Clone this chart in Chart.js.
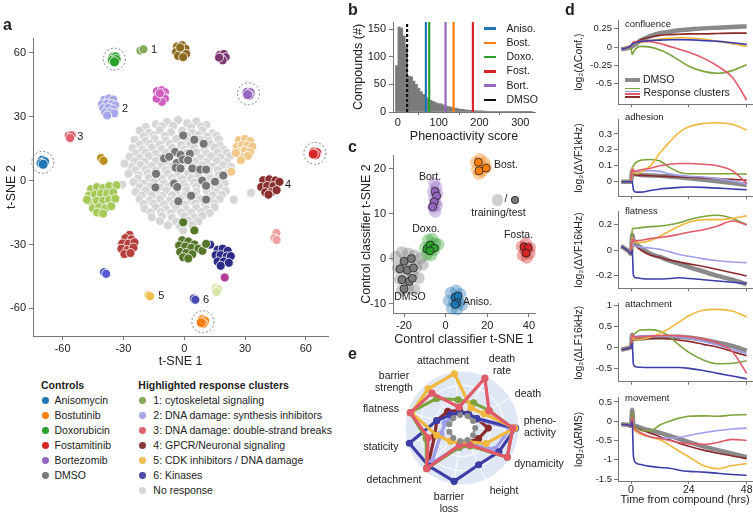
<!DOCTYPE html>
<html><head><meta charset="utf-8">
<script src="https://cdn.jsdelivr.net/npm/chart.js@4.4.1/dist/chart.umd.min.js"></script>
<style>
html,body{margin:0;padding:0;background:#fff}
body{width:753px;height:515px;position:relative;overflow:hidden;font-family:"Liberation Sans",Arial,Helvetica,sans-serif;color:#222}
canvas{position:absolute;display:block}
.t{position:absolute;white-space:nowrap;line-height:1.12}
.dot{position:absolute;border-radius:50%}
.ln{position:absolute}
</style></head><body>
<canvas id="ca" width="340" height="372" style="left:0;top:0"></canvas>
<canvas id="cb" width="240" height="145" style="left:345px;top:0"></canvas>
<canvas id="cc" width="240" height="205" style="left:345px;top:145px"></canvas>
<canvas id="ce" width="134" height="134" style="left:395px;top:361px"></canvas>
<canvas id="d1" width="183" height="112" style="left:570px;top:0"></canvas>
<canvas id="d2" width="183" height="92" style="left:570px;top:112px"></canvas>
<canvas id="d3" width="183" height="92" style="left:570px;top:204px"></canvas>
<canvas id="d4" width="183" height="94" style="left:570px;top:296px"></canvas>
<canvas id="d5" width="183" height="125" style="left:570px;top:390px"></canvas>
<script>
// ================= DATA =================
// ---- panel a : t-SNE coordinates ----
const aAnisomycin = [[-70,9.6],[-68.9,8.9],[-70.6,8.1],[-69.6,7.7]];
const aBostutinib = [[9,-65.4],[10.1,-66],[9.3,-67.1],[8.4,-66.7]];
const aDoxorubicin = [[-35,58],[-33.9,58.1],[-35.4,56.6],[-33.6,56.9],[-34.4,55.8]];
const aFostamitinib = [[64,13.4],[65.4,13.1],[64.8,12.2],[63.7,12.5]];
const aBortezomib = [[31,41.5],[32.6,41.3],[32.1,40.1],[31.3,40.4]];
const aDMSO = [[-0.5,21.2],[5,19.2],[9.6,17.3],[-4.5,13.5],[-1.8,12.1],[2.8,12.6],[-9.9,10.4],[-7.4,11.2],[-3.7,8.3],[-0.6,9.9],[1.9,9.6],[-4.2,6.1],[-1.8,5.7],[4,5.7],[7.9,5.2],[10.8,5.2],[-13.9,3.2],[19.3,2.4],[8.9,0],[15.2,-0.5],[-5,-1.4],[-14.2,-3.2],[-3.4,-3],[10.8,-2.4],[3.4,-7.1],[-2.9,-9.7],[10.8,-8.9]];
const aCluster1 = [[-21.6,61.1],[-20.1,61.7]];
const aCluster2 = [[-39.5,38],[-37,38.6],[-35,38.1],[-40.5,36],[-38,36.2],[-35.6,36],[-34,35.4],[-40,34],[-37.5,34.2],[-35,33.5],[-39,32.1],[-36.6,32],[-34.5,31.6],[-38,30.6]];
const aCluster3 = [[-57,21.1],[-55.5,21.3],[-56.3,20]];
const aCluster4 = [[39,0.2],[42,0.6],[45,0.1],[38,-3],[41,-2.5],[44,-2.6],[47,-0.6],[40,-5.5],[43,-5.4],[45.6,-4.5],[41.6,-6.6]];
const aCluster5 = [[-17.6,-53.8],[-16.8,-54.3]];
const aCluster6 = [[4.7,-55.4],[5.5,-56]];
const aBrown = [[-3.5,63],[-1,63.6],[0.6,62],[-2.6,61],[-4,60.5],[-1,60],[1,59.5],[-3,58.6],[-0.5,58],[-2,62.5]];
const aPlum = [[17.5,59.1],[19.6,59.5],[20.5,58],[18,57.6],[19,56.5],[17.2,57.8]];
const aOrchid = [[-13.5,42],[-11,42.5],[-9.5,41.5],[-13,40],[-10.5,40],[-12,38.5],[-9.5,38.5],[-11,37],[-13.6,38.5],[-12,41]];
const aGold = [[-41,10.6],[-39.8,9.3]];
const aLightGreen = [[-46,-4],[-43,-3],[-40,-3.5],[-37,-2.5],[-33.4,-2.2],[-47,-7],[-44,-6.5],[-41,-6],[-38,-6],[-35,-5.5],[-46,-10],[-43,-9.5],[-40,-9.5],[-37,-9],[-34,-8.5],[-45,-13],[-42,-12.5],[-39,-13],[-36,-12],[-43,-15],[-40,-15.5],[-48,-9]];
const aApricot = [[27,19],[30,19.6],[32.6,18.5],[26,16],[28.5,16.6],[31,16.5],[33.6,16],[27.5,13.6],[30,14],[32.5,13.4],[29,11],[31.5,11.6],[25.5,13],[28,9.6],[23.3,4.2]];
const aSalmon = [[45.5,-24.6],[44.5,-27],[45.6,-27.9]];
const aBrick = [[-27,-25.5],[-29,-27],[-26,-27.6],[-30.5,-29.5],[-27.5,-29.6],[-24.5,-29],[-31,-32],[-28,-32.6],[-25,-31.5],[-29.5,-34.5],[-26.5,-34]];
const aOlive = [[-1,-28],[2,-28.6],[5,-30],[-2.5,-30.5],[0.5,-31],[3.5,-31.6],[7,-32],[9,-33],[-2,-33.5],[1,-34],[4,-34.6],[-0.5,-36],[2,-36.6],[-0.5,-19.6],[5,-23.4],[10.8,-29.7]];
const aNavy = [[16.5,-32.5],[19,-32],[21.5,-33],[15.5,-35],[18,-35],[21,-35.6],[23,-35.5],[16.5,-38],[19.5,-38],[22,-38.6],[18,-40],[12.8,-30.1]];
const aBlue = [[-39.6,-43],[-38.5,-43.8]];
const aMagenta = [[20,-45.5]];
const aPaleGreen = [[15.5,-50.5],[16.8,-51],[16,-52.3]];
const aNoResponse = [[-14,26.5],[-8.5,27.5],[-3,28.5],[1.5,27],[6,27.8],[11,26.2],
 [-19,25.2],[-11,25.5],[-5.5,25.8],[3.5,25],[8.5,25.4],
 [-22,23.5],[-17.5,22.5],[-12,23.8],[-6.5,22.8],[-1,23.4],[4,22.5],[9,23.6],[14,22.2],
 [-20,20.8],[-15,21.3],[-9.5,20.9],[1.5,21],[7,21.4],[11.5,20.7],[16,21],
 [-24.5,19.2],[-19,18.5],[-14.5,19.6],[-9,18.8],[-4,19.5],[2,18.4],[7.5,19.3],[12,18.6],[17,19.4],
 [-22,16.8],[-17,17.3],[-12,16.9],[-7,17.3],[-1.5,16.8],[3,17.2],[13,17],[17.5,16.6],
 [-25.5,15.3],[-20.5,14.6],[-16,15.6],[-11,14.8],[-6,15.4],[0,14.6],[5,15.5],[10,14.7],[15,15.6],[19.5,14.4],
 [-24,12.9],[-19,13.2],[-14,12.7],[-9,13.1],[1,13],[6,13.3],[11,12.8],[16.5,13.2],[21,13],
 [-27,11.2],[-22,10.6],[-17.5,11.5],[-12,10.8],[-7,11.4],[-2,10.7],[3,11.3],[8,10.5],[13,11.4],[18,10.8],[22.5,11.5],
 [-24.5,9],[-19.5,8.8],[-14,9.2],[-9,8.9],[5.5,9],[11,8.8],[16,9.2],[21,8.7],
 [-26,6.6],[-21.5,7.4],[-16,6.8],[-11,7.3],[-6,6.5],[-1,7.5],[4,6.7],[9,7.4],[14,6.6],[19,7.2],[23,6.4],
 [-24,4.8],[-19,5.2],[-14,4.7],[-9,5],[12,4.9],[16.5,5.1],[21.5,4.6],
 [-27.5,3.2],[-22.5,2.6],[-18,3.4],[-13,2.8],[-8,3.3],[-3,2.5],[2,3.4],[7,2.7],[12,3.3],[17,2.6],[21,3.5],
 [-23,1],[-17.5,1.2],[-11,0.8],[-6,1.3],[-1,0.7],[3.5,1.1],[13,1],[18,0.8],
 [-25,-0.7],[-20,-1.4],[-15,-0.6],[-10,-1.3],[-5,-0.5],[0,-1.5],[5,-0.8],[10,-1.2],[15,-0.5],[20,-1.3],
 [-22,-3],[-17,-2.8],[-12,-3.2],[-7.5,-2.7],[1,-3.1],[6,-2.8],[13,-3.2],[17.5,-2.9],
 [-24,-5.3],[-19,-4.6],[-14,-5.4],[-9,-4.7],[-4,-5.5],[1,-4.6],[6,-5.2],[11,-4.5],[16,-5.4],[20.5,-4.8],
 [-21,-7],[-16,-6.8],[-11,-7.2],[-6,-6.9],[0,-7.3],[5,-6.8],[14,-7],[18.5,-6.7],
 [-22,-8.7],[-17,-9.4],[-12,-8.6],[-7,-9.3],[-2,-8.5],[3,-9.5],[8,-8.8],[13,-9.4],[17.5,-8.6],
 [-20,-11],[-15,-10.8],[-10,-11.2],[-5,-10.9],[0,-11.2],[5.5,-10.8],[10.5,-11.1],[15,-10.7],
 [-19.5,-13.2],[-14,-12.6],[-9,-13.4],[-4,-12.7],[1,-13.5],[6,-12.8],[11,-13.3],[15,-12.5],
 [-16.5,-15],[-11.5,-14.8],[-6.5,-15.2],[-1.5,-14.9],[3.5,-15.1],[8.5,-14.8],[12.5,-15.2],
 [-16,-17.2],[-11,-16.6],[-6,-17.4],[0,-16.8],[5,-17.3],[9,-16.5],
 [-12,-19],[-4,-19.3],[2,-18.8],[7,-19.2],
 [-8,-21],[-2,-21.5],[4,-20.8],[-0.5,-23.3],[-30.6,-1.9],[33,-5.7],[-29.5,8],[24.5,-9]];
const aTicks = [-60,-30,0,30,60];

// ---- panel b : phenoactivity histogram ----
const bBinCenters = [-3,3,9,15,21,27,33,39,45,51,57,63,69,75,81,87,93,99,105,111,117,123,129,135,141,147,153,159,165,171,177,183,189,195,201,207,213,219,225,231,237,243,249,255,261,267,273,279,285,291,297,303,309,315,321,327];
const bCounts = [84,154,152,138,118,65,64,56,50,43,37,32,27,24,21,19,17,15,15,13,11,10,9,8,7,6,5,5,4,3.5,3,3,2.5,2,2,2,1.5,1.5,1,1,1,0.8,0.8,0.8,0.6,0.6,0.6,0.5,0.5,0.5,0.5,0.5,0.4,0.4,0.4,0.4];
const bControlNames = ['Aniso.','Bost.','Doxo.','Fost.','Bort.','DMSO'];
const bControlScores = [68.6,136.5,76.8,183.8,116.8,22.5];
const bXTicks = [0,100,200,300];
const bYTicks = [0,50,100,150];

// ---- panel c : control classifier t-SNE (training / test) ----
const cNames = ['Bost.','Bort.','Doxo.','Fosta.','DMSO','Aniso.'];
const cTrainBost = [[14.5,21.5],[16.5,22.2],[18.5,21.5],[15,19.8],[17.5,19.5],[19.5,20.3],[16,18.8]];
const cTestBost = [[15.7,21.5],[19.4,20.2],[16,19.6]];
const cTrainBort = [[-5.5,16.8],[-4.5,16],[-6,15],[-4,14.5],[-5.5,13.5],[-4.8,12.5],[-6,11.5],[-5,10.5],[-4.2,11.8]];
const cTestBort = [[-5.1,15],[-4.3,14],[-5.5,12.7],[-6.3,11.6]];
const cTrainDoxo = [[-10,2.5],[-8.5,4.2],[-6.5,4.5],[-5,3.5],[-9,1],[-7,0.8],[-5.5,2],[-3.5,3.2],[-8,2.5]];
const cTestDoxo = [[-9,2.2],[-7.5,3.1],[-5.4,2.4],[-7.6,1.8]];
const cTrainFosta = [[36.5,2.8],[38.5,3.5],[40.5,2.5],[37,0.8],[39,0.3],[40.3,1.2],[38.2,1.8]];
const cTestFosta = [[37.6,2.7],[39.7,2.5],[38.6,1.3]];
const cTrainDMSO = [[-24,0.5],[-21,1.5],[-18,1.2],[-15,0.8],[-12,0.2],[-23,-2],[-20,-1.5],[-17,-1],[-14,-1.8],[-11,-1.2],[-22,-4.5],[-19,-4],[-16,-3.5],[-13,-4.2],[-21,-7],[-18,-6.5],[-15,-6.8]];
const cTestDMSO = [[-20,-0.5],[-16.5,0.1],[-22,-2.2],[-18.5,-2.5],[-15.5,-2],[-21,-4.6],[-17.5,-5],[-20,-6.6],[-16,-4.3]];
const cTrainAniso = [[2.5,-7.5],[5,-7],[7,-7.8],[1.5,-9.3],[4,-9.5],[6.5,-9.7],[3,-11],[5.5,-11.2],[8,-10.2]];
const cTestAniso = [[4.5,-8.5],[6,-8.2],[5.5,-9.7],[4.5,-10.1]];
const cXTicks = [-20,0,20,40];
const cYTicks = [-10,0,10,20];

// ---- panel d : time courses ----
const dTime = [-4,-1,0,0.5,1,2,4,8,12,16,20,24,30,36,42,48];
const confDMSO = [-0.03,-0.01,0,0.01,0.02,0.04,0.09,0.15,0.19,0.21,0.23,0.24,0.255,0.265,0.275,0.285];
const confC4 = [-0.03,0,0.02,0.04,0.05,0.06,0.1,0.135,0.16,0.17,0.175,0.18,0.18,0.185,0.19,0.19];
const confC1 = [-0.03,0,-0.02,-0.1,-0.07,-0.02,0.01,0,-0.04,-0.1,-0.18,-0.26,-0.33,-0.355,-0.32,-0.24];
const confC5 = [-0.03,0,0.02,0.04,0.05,0.055,0.065,0.085,0.11,0.12,0.13,0.125,0.11,0.08,0.05,0.01];
const confC2 = [-0.03,0,0.02,0.04,0.05,0.06,0.075,0.09,0.1,0.105,0.11,0.1,0.09,0.075,0.05,0.025];
const confC6 = [-0.03,0,0.02,0.04,0.05,0.06,0.075,0.09,0.095,0.1,0.1,0.1,0.09,0.08,0.06,0.04];
const confC3 = [-0.03,0,0.02,0.05,0.07,0.075,0.08,0.075,0.05,0.01,-0.03,-0.07,-0.15,-0.26,-0.41,-0.72];
const adhDMSO = [0,0,0,0.07,0.05,0.047,0.043,0.04,0.037,0.033,0.028,0.022,0.013,0.003,-0.008,-0.02];
const adhC4 = [0,0,0,0.09,0.05,0.042,0.04,0.038,0.035,0.033,0.03,0.028,0.025,0.02,0.015,0.01];
const adhC1 = [0,0,0,0.08,0.1,0.12,0.135,0.14,0.13,0.09,0.06,0.05,0.05,0.05,0.05,0.048];
const adhC5 = [0,0,0,0.09,0.06,0.05,0.06,0.1,0.18,0.25,0.31,0.345,0.365,0.37,0.36,0.325];
const adhC2 = [0,0,0,0.06,0.055,0.058,0.065,0.07,0.065,0.05,0.04,0.035,0.03,0.02,0.005,-0.015];
const adhC6 = [0,0,0,0,-0.05,-0.065,-0.065,-0.055,-0.045,-0.04,-0.035,-0.033,-0.035,-0.04,-0.045,-0.05];
const adhC3 = [0,0,0,0.08,0.065,0.068,0.075,0.085,0.1,0.11,0.115,0.115,0.11,0.1,0.07,-0.01];
const flatDMSO = [0.03,-0.01,-0.03,0.12,0.08,0.05,0.02,-0.03,-0.055,-0.085,-0.11,-0.135,-0.17,-0.205,-0.235,-0.27];
const flatC4 = [0.03,-0.01,-0.03,0.1,0.05,0.03,0,-0.04,-0.06,-0.08,-0.095,-0.11,-0.13,-0.155,-0.18,-0.205];
const flatC1 = [0.03,-0.01,-0.03,0.17,0.17,0.172,0.177,0.185,0.19,0.2,0.215,0.24,0.265,0.275,0.25,0.2];
const flatC5 = [0.03,-0.01,-0.03,0.1,0.07,0.062,0.06,0.075,0.11,0.15,0.19,0.22,0.24,0.24,0.25,0.27];
const flatC2 = [0.03,-0.01,-0.03,0.08,0.04,0.03,0.022,0.016,0.005,-0.015,-0.035,-0.05,-0.07,-0.085,-0.095,-0.1];
const flatC6 = [0.03,-0.01,-0.03,0,-0.2,-0.22,-0.225,-0.23,-0.23,-0.225,-0.22,-0.225,-0.235,-0.245,-0.255,-0.265];
const flatC3 = [0.03,-0.01,-0.03,0.09,0.07,0.072,0.077,0.09,0.1,0.11,0.125,0.14,0.16,0.19,0.23,0.2];
const attDMSO = [-0.06,-0.02,0,0.3,0.2,0.2,0.21,0.23,0.24,0.25,0.25,0.23,0.18,0.11,0.03,-0.08];
const attC4 = [-0.06,-0.02,0,0.3,0.18,0.185,0.195,0.21,0.21,0.2,0.17,0.14,0.07,0,-0.1,-0.2];
const attC1 = [-0.06,-0.02,0,0.3,0.3,0.35,0.41,0.42,0.38,0.25,0.05,-0.12,-0.3,-0.39,-0.38,-0.32];
const attC5 = [-0.06,-0.02,0,0.3,0.2,0.18,0.19,0.24,0.33,0.45,0.6,0.75,0.88,0.9,0.86,0.72];
const attC2 = [-0.06,-0.02,0,0.3,0.25,0.26,0.275,0.28,0.27,0.26,0.24,0.21,0.14,0.05,-0.05,-0.15];
const attC6 = [-0.06,-0.02,0,0.1,-0.4,-0.46,-0.475,-0.48,-0.48,-0.48,-0.48,-0.5,-0.55,-0.62,-0.68,-0.75];
const attC3 = [-0.06,-0.02,0,0.3,0.25,0.25,0.255,0.265,0.28,0.28,0.27,0.25,0.2,0.1,-0.1,-0.62];
const movDMSO = [-0.08,-0.1,-0.12,0.3,-0.1,-0.13,-0.17,-0.24,-0.3,-0.38,-0.46,-0.54,-0.65,-0.75,-0.84,-0.93];
const movC4 = [-0.08,-0.1,-0.12,0.2,-0.1,-0.16,-0.22,-0.31,-0.4,-0.48,-0.57,-0.65,-0.75,-0.83,-0.9,-0.97];
const movC1 = [-0.08,-0.1,-0.12,0.2,-0.1,-0.17,-0.24,-0.25,-0.1,0,0.08,0.13,0.14,0.13,0.16,0.17];
const movC5 = [-0.08,-0.1,-0.12,0.1,-0.2,-0.26,-0.33,-0.41,-0.48,-0.62,-0.78,-0.92,-1.15,-1.23,-1.15,-1.1];
const movC2 = [-0.08,-0.1,-0.12,0.1,-0.2,-0.26,-0.34,-0.41,-0.44,-0.44,-0.42,-0.37,-0.3,-0.24,-0.2,-0.18];
const movC6 = [-0.08,-0.1,-0.12,0,-0.9,-1.08,-1.12,-1.17,-1.2,-1.22,-1.27,-1.3,-1.32,-1.35,-1.38,-1.4];
const movC3 = [-0.08,-0.1,-0.12,0.1,-0.15,-0.22,-0.3,-0.4,-0.45,-0.5,-0.55,-0.58,-0.6,-0.55,-0.47,-0.5];
const dXTicks = [0,24,48];
const confTicks = [-0.5,-0.25,0,0.25];
const adhTicks = [0,0.1,0.2,0.3];
const flatTicks = [-0.2,0,0.2];
const attTicks = [-0.5,0,0.5,1];
const movTicks = [-1.5,-1,-0.5,0,0.5];

// ---- panel e : radar profiles ----
const eAxes = ['attachment',['death','rate'],'death',['pheno-','activity'],'dynamicity','height',['barrier','loss'],'detachment','staticity','flatness',['barrier','strength']];
const eDMSO = [0,0,0,0,0,0,0,0,0,0,0];
const eC3 = [0.18,0.95,0.43,0.86,0.93,0.12,0.1,0.93,0.5,0.93,0.75];
const eC5 = [0.95,0.2,0.3,0.9,0.35,0.05,0.05,0.1,0.3,0.9,0.88];
const eC1 = [0.35,0.33,0.44,0.85,0.93,0.15,0.15,0.93,0.55,0.93,0.59];
const eC6 = [0.05,0.05,0.1,0.92,0.7,0.62,0.93,0.85,0.95,0.3,0.1];
const eC2 = [0.05,0.05,0.08,0.8,0.6,0.1,0.15,0.75,0.2,0.1,0.05];
const eC4 = [0.1,0.05,0.1,0.3,0.15,0.05,0.1,0.9,0.35,0.3,0.2];

// ================= STYLE =================
const FONT = '"Liberation Sans", Arial, Helvetica, sans-serif';
Chart.defaults.font.family = FONT;
Chart.defaults.color = '#222';
const AX = '#777';
const COL = {anis:'#1f77b4',bost:'#ff7f0e',doxo:'#2ca02c',fost:'#d62728',bort:'#9467bd',dmso:'#7a7a7a',
  c1:'#7ea33c',c2:'#9e9eea',c3:'#e05a6a',c4:'#8b2a2a',c5:'#f0b83c',c6:'#3d3da8',none:'#d6d6d6'};

const toXY = a => a.map(p => ({x:p[0], y:p[1]}));
const cen = a => [a.reduce((s,p)=>s+p[0],0)/a.length, a.reduce((s,p)=>s+p[1],0)/a.length];
const setTicks = list => (s => { s.ticks = list.map(v => ({value:v})); });

const dashPlugin = {id:'dashds',
  beforeDatasetDraw(chart,args){const ds=chart.data.datasets[args.index]; if(ds.dashed){chart.ctx.save(); chart.ctx.setLineDash(ds.dashed);}},
  afterDatasetDraw(chart,args){const ds=chart.data.datasets[args.index]; if(ds.dashed){chart.ctx.restore();}}
};

function axisCommon(ticks, size, tl, pad){
  return {grid:{display:true,drawOnChartArea:false,drawTicks:true,tickLength:tl,color:AX},
          border:{display:true,color:AX},
          ticks:{font:{size:size},color:'#222',padding:pad,callback:v=>String(v)},
          afterBuildTicks:setTicks(ticks)};
}

// ================= PANEL A =================
(function(){
  const pt = (arr,color,r) => ({data:toXY(arr),backgroundColor:color,borderColor:'#fff',borderWidth:0.8,pointRadius:r||4.5,clip:false});
  const controls = [aAnisomycin,aBostutinib,aDoxorubicin,aFostamitinib,aBortezomib];
  const ds = [
    {data:controls.map(a=>{const c=cen(a);return {x:c[0],y:c[1]};}),backgroundColor:'rgba(0,0,0,0)',borderColor:'#777',borderWidth:0.9,pointRadius:11,dashed:[2,2],clip:false},
    pt(aAnisomycin,COL.anis,5), pt(aBostutinib,COL.bost,5), pt(aDoxorubicin,COL.doxo,5), pt(aFostamitinib,COL.fost,5), pt(aBortezomib,COL.bort,5),
    pt(aCluster1,'#86a95a'), pt(aCluster2,'#a6a6ea'), pt(aCluster3,'#e0606e'), pt(aCluster4,'#8a2f2f'), pt(aCluster5,'#f0c04c'), pt(aCluster6,'#4a4ab4'),
    pt(aBrown,'#8c6a20'), pt(aPlum,'#7d3a72'), pt(aOrchid,'#d25cc0'), pt(aGold,'#b8901f'), pt(aLightGreen,'#a6ca5a'),
    pt(aApricot,'#f0c98a'), pt(aSalmon,'#f0a0a0'), pt(aBrick,'#b6403e'), pt(aOlive,'#56772a'), pt(aNavy,'#2c2c86'),
    pt(aBlue,'#5a5ad2'), pt(aMagenta,'#b03c96'), pt(aPaleGreen,'#d6e6a6'),
    pt(aDMSO,'#777777'), pt(aNoResponse,COL.none)
  ];
  const numLabels = [['1',aCluster1,9,0],['2',aCluster2,13,2],['3',aCluster3,7,1],['4',aCluster4,15,-1.5],['5',aCluster5,9,0],['6',aCluster6,8.5,1]];
  const labPlugin = {id:'numlab', afterDatasetsDraw(chart){
    const {ctx, scales:{x,y}} = chart; ctx.save(); ctx.font='11px '+FONT; ctx.fillStyle='#222'; ctx.textBaseline='middle';
    numLabels.forEach(([t,arr,dx,dy])=>{const c=cen(arr); ctx.fillText(t, x.getPixelForValue(c[0])+dx, y.getPixelForValue(c[1])+dy);});
    ctx.restore();}};
  const xs = axisCommon(aTicks,11,4,2), ys = axisCommon(aTicks,11,4,3);
  new Chart(document.getElementById('ca'),{type:'scatter',data:{datasets:ds},plugins:[dashPlugin,labPlugin],
    options:{responsive:false,animation:false,events:[],layout:{padding:{top:38,right:7,left:0,bottom:0}},
      plugins:{legend:{display:false},tooltip:{enabled:false}},
      scales:{
        x:Object.assign(xs,{type:'linear',min:-74.6,max:71,title:{display:true,text:'t-SNE 1',font:{size:12.5},padding:{top:0,bottom:2.5}},afterFit:s=>{s.height=36;}}),
        y:Object.assign(ys,{type:'linear',min:-73,max:67,title:{display:true,text:'t-SNE 2',font:{size:12.5},padding:{top:4.5,bottom:0}},afterFit:s=>{s.width=33;}})
      }}});
})();

// ================= PANEL B =================
(function(){
  const lineCols = [COL.anis,COL.bost,COL.doxo,COL.fost,COL.bort,'#111'];
  const ds = [];
  bControlScores.forEach((v,i)=>ds.push({type:'line',data:[{x:v,y:0},{x:v,y:163}],borderColor:lineCols[i],borderWidth:2.2,pointRadius:0,borderDash:i===5?[3,2]:[],clip:false}));
  ds.push({type:'bar',data:bBinCenters.map((c,i)=>({x:c,y:bCounts[i]})),backgroundColor:'#7b7b7b',borderWidth:0,barPercentage:1,categoryPercentage:1,grouped:false});
  const xs = axisCommon(bXTicks,11,3,1), ys = axisCommon(bYTicks,11,4,3);
  new Chart(document.getElementById('cb'),{type:'bar',data:{datasets:ds},
    options:{responsive:false,animation:false,events:[],layout:{padding:{top:22,right:50,left:0,bottom:0}},
      plugins:{legend:{display:false},tooltip:{enabled:false}},
      scales:{
        x:Object.assign(xs,{type:'linear',min:-12,max:336,offset:false,title:{display:true,text:'Phenoactivity score',font:{size:12.5},padding:{top:0,bottom:0.5}},afterFit:s=>{s.height=33;}}),
        y:Object.assign(ys,{type:'linear',min:0,max:163,title:{display:true,text:'Compounds (#)',font:{size:12.5},padding:{top:6.5,bottom:0}},afterFit:s=>{s.width=48;}})
      }}});
})();

// ================= PANEL C =================
(function(){
  const cols = [COL.bost,COL.bort,COL.doxo,COL.fost,'#7a7a7a',COL.anis];
  const rgba = (h,a)=>{const n=parseInt(h.slice(1),16);return `rgba(${n>>16},${(n>>8)&255},${n&255},${a})`;};
  const train = [cTrainBost,cTrainBort,cTrainDoxo,cTrainFosta,cTrainDMSO,cTrainAniso];
  const test = [cTestBost,cTestBort,cTestDoxo,cTestFosta,cTestDMSO,cTestAniso];
  const ds = [];
  test.forEach((a,i)=>ds.push({data:toXY(a),backgroundColor:cols[i],borderColor:'#222',borderWidth:0.8,pointRadius:4,clip:false}));
  train.forEach((a,i)=>ds.push({data:toXY(a),backgroundColor:rgba(cols[i],0.38),borderWidth:0,pointRadius:6,clip:false}));
  const xs = axisCommon(cXTicks,11,4,2), ys = axisCommon(cYTicks,11,4,3);
  new Chart(document.getElementById('cc'),{type:'scatter',data:{datasets:ds},
    options:{responsive:false,animation:false,events:[],layout:{padding:{top:10,right:50,left:0,bottom:0}},
      plugins:{legend:{display:false},tooltip:{enabled:false}},
      scales:{
        x:Object.assign(xs,{type:'linear',min:-25.3,max:42.9,title:{display:true,text:'Control classifier t-SNE 1',font:{size:12.5},padding:{top:0,bottom:2.5}},afterFit:s=>{s.height=37;}}),
        y:Object.assign(ys,{type:'linear',min:-12,max:23.1,title:{display:true,text:'Control classifier t-SNE 2',font:{size:12.5},padding:{top:14,bottom:0}},afterFit:s=>{s.width=48;}})
      }}});
})();

// ================= PANEL D =================
const dSeriesOrder = ['c6','c3','c5','c2','c1','c4','dmso'];
function makeD(id, ytitle, ser, ymin, ymax, yt, padTop, xh, last){
  const ds = dSeriesOrder.map(k=>({data:dTime.map((t,i)=>({x:t,y:ser[k][i]})),borderColor:k==='dmso'?'#8a8a8a':COL[k],
     borderWidth:k==='dmso'?4.5:1.6,pointRadius:0,cubicInterpolationMode:'monotone',fill:false,clip:false}));
  const xs = axisCommon(dXTicks,10.5,3,0), ys = axisCommon(yt,9.5,4,2);
  xs.ticks.callback = last ? (v=>String(v)) : (()=>'');
  new Chart(document.getElementById(id),{type:'line',data:{datasets:ds},
    options:{responsive:false,animation:false,events:[],layout:{padding:{top:padTop,right:1,left:0,bottom:0}},
      plugins:{legend:{display:false},tooltip:{enabled:false}},
      scales:{
        x:Object.assign(xs,{type:'linear',min:-5.4,max:50.2,title:{display:last,text:'Time from compound (hrs)',font:{size:11},padding:{top:0,bottom:8}},afterFit:s=>{s.height=xh;}}),
        y:Object.assign(ys,{type:'linear',min:ymin,max:ymax,title:{display:true,text:ytitle,font:{size:10.5},padding:{top:2.7,bottom:0}},afterFit:s=>{s.width=48;}})
      }}});
}
makeD('d1','log\u2082(\u0394Conf.)',{dmso:confDMSO,c1:confC1,c2:confC2,c3:confC3,c4:confC4,c5:confC5,c6:confC6},-0.778,0.369,confTicks,20,5,false);
makeD('d2','log\u2082(\u0394VF1kHz)',{dmso:adhDMSO,c1:adhC1,c2:adhC2,c3:adhC3,c4:adhC4,c5:adhC5,c6:adhC6},-0.091,0.389,adhTicks,4.7,6.3,false);
makeD('d3','log\u2082(\u0394VF16kHz)',{dmso:flatDMSO,c1:flatC1,c2:flatC2,c3:flatC3,c4:flatC4,c5:flatC5,c6:flatC6},-0.303,0.303,flatTicks,5.3,4.3,false);
makeD('d4','log\u2082(\u0394LF16kHz)',{dmso:attDMSO,c1:attC1,c2:attC2,c3:attC3,c4:attC4,c5:attC5,c6:attC6},-0.817,1.035,attTicks,5.7,8.3,false);
makeD('d5','log\u2082(\u0394RMS)',{dmso:movDMSO,c1:movC1,c2:movC2,c3:movC3,c4:movC4,c5:movC5,c6:movC6},-1.55,0.61,movTicks,6.7,34,true);

// ================= PANEL E =================
(function(){
  const bg = {id:'disk', beforeDraw(chart){
    const r = chart.scales.r, ctx = chart.ctx; ctx.save();
    ctx.fillStyle='#dfe7f4'; ctx.beginPath(); ctx.arc(r.xCenter,r.yCenter,r.getDistanceFromCenterForValue(1),0,Math.PI*2); ctx.fill();
    ctx.restore();}};
  const hub = {id:'hub', beforeDatasetsDraw(chart){
    const r = chart.scales.r, ctx = chart.ctx; ctx.save();
    ctx.fillStyle='#fff'; ctx.beginPath(); ctx.arc(r.xCenter,r.yCenter,r.getDistanceFromCenterForValue(0),0,Math.PI*2); ctx.fill();
    ctx.restore();}};
  const mk = (d,c,w,r,dash)=>({data:d,borderColor:c,backgroundColor:c,pointBackgroundColor:c,pointBorderWidth:0,borderWidth:w,pointRadius:r,fill:false,borderDash:dash||[],clip:false});
  const ds = [mk(eDMSO,'#8a8a8a',2.5,3,[2,3]), mk(eC3,COL.c3,3.2,3.6), mk(eC5,COL.c5,3.2,3.6), mk(eC1,COL.c1,3.2,3.6), mk(eC6,COL.c6,3.2,3.6), mk(eC2,COL.c2,3.2,3.6), mk(eC4,COL.c4,3.2,3.6)];
  new Chart(document.getElementById('ce'),{type:'radar',data:{labels:eAxes,datasets:ds},plugins:[bg,hub],
    options:{responsive:false,animation:false,events:[],layout:{padding:10},
      plugins:{legend:{display:false},tooltip:{enabled:false}},
      elements:{line:{tension:0}},
      scales:{r:{min:-0.3,max:1,startAngle:-8,ticks:{display:false,stepSize:0.325},
        grid:{color:'rgba(255,255,255,0.95)',lineWidth:1,circular:true},angleLines:{color:'rgba(255,255,255,0.95)',lineWidth:1},
        pointLabels:{display:false}}}}});
})();

// ================= TEXT / LEGENDS =================
function T(html,x,y,o){o=o||{};const d=document.createElement('div');d.className='t';d.innerHTML=html;
  d.style.left=x+'px';d.style.top=y+'px';d.style.fontSize=(o.size||10.5)+'px';if(o.bold)d.style.fontWeight='bold';
  const ax=o.align==='center'?'-50%':o.align==='right'?'-100%':'0';d.style.transform=`translate(${ax},-50%)`;
  if(o.ta)d.style.textAlign=o.ta; document.body.appendChild(d);}
function dot(x,y,r,c,border){const d=document.createElement('div');d.className='dot';d.style.left=(x-r)+'px';d.style.top=(y-r)+'px';
  d.style.width=2*r+'px';d.style.height=2*r+'px';d.style.background=c;d.style.boxSizing='border-box';if(border)d.style.border=border;document.body.appendChild(d);}
function seg(x,y,w,h,c,dashed){const d=document.createElement('div');d.className='ln';d.style.left=x+'px';d.style.top=(y-h/2)+'px';d.style.width=w+'px';
  if(dashed){d.style.borderTop=h+'px dashed '+c;d.style.height='0';}else{d.style.height=h+'px';d.style.background=c;}document.body.appendChild(d);}

// panel letters
T('a',3,25,{size:16,bold:true}); T('b',348,10,{size:16,bold:true}); T('c',348,147,{size:16,bold:true});
T('d',565,10,{size:16,bold:true}); T('e',348,354,{size:16,bold:true});

// panel a legend
const legCtrlNames = ['Anisomycin','Bostutinib','Doxorubicin','Fostamitinib','Bortezomib','DMSO'];
const legCtrlCols = [COL.anis,COL.bost,COL.doxo,COL.fost,COL.bort,'#7a7a7a'];
const legClNames = ['1: cytoskeletal signaling','2: DNA damage: synthesis inhibitors','3: DNA damage: double-strand breaks','4: GPCR/Neuronal signaling','5: CDK inhibitors / DNA damage','6: Kinases','No response'];
const legClCols = ['#8aa85c','#a6a6e6','#dd6470','#8b3a3a','#eebf55','#4b4ba8','#d6d6d6'];
T('Controls',41,386,{bold:true});
legCtrlNames.forEach((n,i)=>{const y=400.5+15*i; dot(45.7,y,3.4,legCtrlCols[i]); T(n,54.5,y);});
T('Highlighted response clusters',138.3,386,{bold:true});
legClNames.forEach((n,i)=>{const y=400.5+15*i; dot(142.3,y,3.4,legClCols[i]); T(n,153.3,y);});

// panel b legend
const bLegCols = [COL.anis,COL.bost,COL.doxo,COL.fost,COL.bort,'#111'];
bControlNames.forEach((n,i)=>{const y=28.5+14.3*i; seg(484,y,12,2.6,bLegCols[i],i===5); T(n,506.5,y);});

// panel c labels
T('Bost.',506,165,{align:'center'}); T('Bort.',430,177,{align:'center'}); T('Doxo.',426,229,{align:'center'});
T('Fosta.',518.5,235,{align:'center'}); T('DMSO',410,297,{align:'center'}); T('Aniso.',477.5,301.5,{align:'center'});
dot(497.5,200,5.8,'#cfcfcf'); T('/',504.5,198.5); dot(515,200,3.6,'#7a7a7a','0.8px solid #222'); T('training/test',498.5,213,{align:'center'});

// panel d labels + legend
T('confluence',625,23.5,{size:9.5}); T('adhesion',625,117,{size:9.5}); T('flatness',625,210.5,{size:9.5});
T('attachment',625,304,{size:9.5}); T('movement',625,398,{size:9.5});
seg(625,79.5,15,4,'#8a8a8a'); T('DMSO',643,79.5);
seg(625,88.6,15,1.6,COL.c1); seg(625,91.4,15,1.6,COL.c2); seg(625,94.2,15,1.6,COL.c3); seg(625,97,15,1.6,COL.c4);
T('Response clusters',643.5,93);

// panel e labels
const eLabPos = [[443,361],[502,365],[528,394],[540,427],[539,464],[504,491],[449,503],[394,480],[381,447],[381,409],[394,382]];
eAxes.forEach((l,i)=>{T(Array.isArray(l)?l.join('<br>'):l, eLabPos[i][0], eLabPos[i][1], {align:'center',ta:'center'});});
</script>
</body></html>
